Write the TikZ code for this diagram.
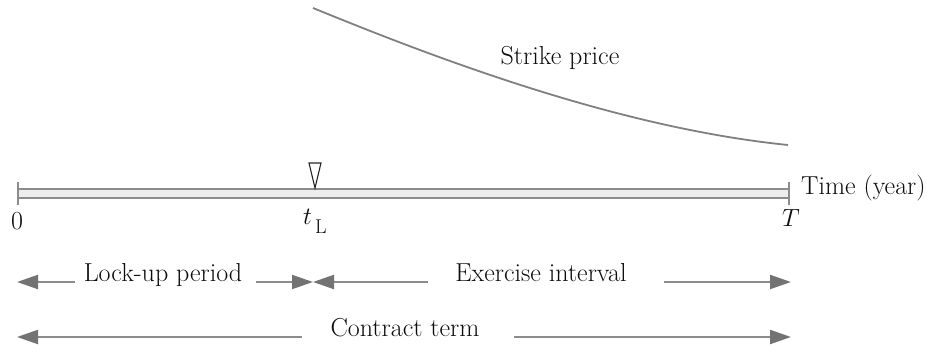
\documentclass[tikz,border=0pt]{standalone}
\usetikzlibrary{arrows.meta}
\begin{document}
\begin{tikzpicture}[x=1pt,y=-1pt,
  lbl/.style={font=\fontsize{26}{30}\selectfont, inner sep=0pt, text=black!95},
  arr/.style={draw=black!45, line width=2pt, -{Triangle[length=21pt,width=14pt,color=black!55,fill=black!55]}},
  curve/.style={draw=black!50, line width=1.8pt},
  bar/.style={draw=black!45, line width=1.3pt, fill=black!7},
  tick/.style={draw=black!45, line width=2.2pt},
  marker/.style={draw=black!85, line width=1.1pt}]
\useasboundingbox (0,0) rectangle (928,352);
% strike price curve
\coordinate (s0) at (313,8);
\coordinate (s1) at (788,145);
\draw[curve] (s0) .. controls (440,60) and (620,128) .. (s1);
\node[lbl, anchor=base] (strike) at (560,65) {Strike price};
% time axis
\draw[bar] (18,189) rectangle (789,198);
\coordinate (o0) at (18,182); \coordinate (o1) at (18,205);
\coordinate (e0) at (789,182); \coordinate (e1) at (789,205);
\draw[tick] (o0) -- (o1);
\draw[tick] (e0) -- (e1);
\draw[marker] (309,163) -- (321,163) -- (315,188) -- cycle;
\node[lbl, anchor=base] (zero) at (17,230) {0};
\node[lbl, anchor=base west] (tL) at (303,225) {$t$\hspace{3pt}\raisebox{-9pt}{\fontsize{20}{21}\selectfont L}};
\node[lbl, anchor=base] (T) at (791,227) {$T$};
\node[lbl, anchor=base west] (time) at (801,195) {Time (year)};
% row 1
\node[lbl, anchor=base] (lock) at (163,282) {Lock-up period};
\node[lbl, anchor=base] (exer) at (541,282) {Exercise interval};
\coordinate (a0) at (17,282);
\coordinate (a1) at (75,282);
\coordinate (a2) at (256,282);
\coordinate (tLa) at (313,282);
\coordinate (a3) at (428,282);
\coordinate (a4) at (664,282);
\coordinate (a5) at (791,282);
\draw[arr] (a1) -- (a0);
\draw[arr] (a2) -- (tLa);
\draw[arr] (a3) -- (tLa);
\draw[arr] (a4) -- (a5);
% row 2
\node[lbl, anchor=base] (contract) at (405,336) {Contract term};
\coordinate (b0) at (17,337);
\coordinate (b1) at (302,337);
\coordinate (b2) at (514,337);
\coordinate (b3) at (791,337);
\draw[arr] (b1) -- (b0);
\draw[arr] (b2) -- (b3);
\end{tikzpicture}
\end{document}
